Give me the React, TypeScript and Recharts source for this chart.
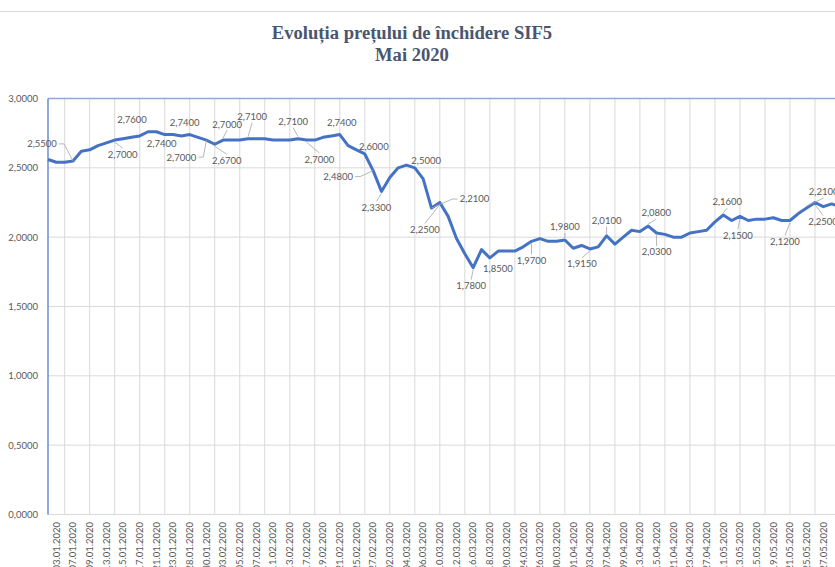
import { LineChart, Line, XAxis, YAxis, CartesianGrid, ReferenceLine, LabelList } from 'recharts'

const DATES = [
  '30.12.2019', '03.01.2020', '06.01.2020', '07.01.2020', '08.01.2020', '09.01.2020', '10.01.2020', '13.01.2020',
  '14.01.2020', '15.01.2020', '16.01.2020', '17.01.2020', '20.01.2020', '21.01.2020', '22.01.2020', '23.01.2020',
  '27.01.2020', '28.01.2020', '29.01.2020', '30.01.2020', '31.01.2020', '03.02.2020', '04.02.2020', '05.02.2020',
  '06.02.2020', '07.02.2020', '10.02.2020', '11.02.2020', '12.02.2020', '13.02.2020', '14.02.2020', '17.02.2020',
  '18.02.2020', '19.02.2020', '20.02.2020', '21.02.2020', '24.02.2020', '25.02.2020', '26.02.2020', '27.02.2020',
  '28.02.2020', '02.03.2020', '03.03.2020', '04.03.2020', '05.03.2020', '06.03.2020', '09.03.2020', '10.03.2020',
  '11.03.2020', '12.03.2020', '13.03.2020', '16.03.2020', '17.03.2020', '18.03.2020', '19.03.2020', '20.03.2020',
  '23.03.2020', '24.03.2020', '25.03.2020', '26.03.2020', '27.03.2020', '30.03.2020', '31.03.2020', '01.04.2020',
  '02.04.2020', '03.04.2020', '06.04.2020', '07.04.2020', '08.04.2020', '09.04.2020', '10.04.2020', '13.04.2020',
  '14.04.2020', '15.04.2020', '16.04.2020', '21.04.2020', '22.04.2020', '23.04.2020', '24.04.2020', '27.04.2020',
  '28.04.2020', '11.05.2020', '12.05.2020', '13.05.2020', '14.05.2020', '15.05.2020', '18.05.2020', '19.05.2020',
  '20.05.2020', '21.05.2020', '22.05.2020', '25.05.2020', '26.05.2020', '27.05.2020', '28.05.2020', '29.05.2020',
]

const PRICES = [
  2.56, 2.54, 2.54, 2.55, 2.62, 2.63, 2.66, 2.68, 2.70, 2.71,
  2.72, 2.73, 2.76, 2.76, 2.74, 2.74, 2.73, 2.74, 2.72, 2.70,
  2.67, 2.70, 2.70, 2.70, 2.71, 2.71, 2.71, 2.70, 2.70, 2.70,
  2.71, 2.70, 2.70, 2.72, 2.73, 2.74, 2.66, 2.63, 2.60, 2.48,
  2.33, 2.43, 2.50, 2.52, 2.50, 2.42, 2.21, 2.25, 2.15, 1.99,
  1.88, 1.78, 1.91, 1.85, 1.90, 1.90, 1.90, 1.93, 1.97, 1.99,
  1.97, 1.97, 1.98, 1.92, 1.94, 1.915, 1.93, 2.01, 1.95, 2.00,
  2.05, 2.04, 2.08, 2.03, 2.02, 2.00, 2.00, 2.03, 2.04, 2.05,
  2.11, 2.16, 2.12, 2.15, 2.12, 2.13, 2.13, 2.14, 2.12, 2.12,
  2.17, 2.21, 2.25, 2.22, 2.24, 2.22,
]

const TICK_LABELS = [
  '03.01.2020', '07.01.2020', '09.01.2020', '13.01.2020', '15.01.2020', '17.01.2020', '21.01.2020', '23.01.2020',
  '28.01.2020', '30.01.2020', '03.02.2020', '05.02.2020', '07.02.2020', '11.02.2020', '13.02.2020', '17.02.2020',
  '19.02.2020', '21.02.2020', '25.02.2020', '27.02.2020', '02.03.2020', '04.03.2020', '06.03.2020', '10.03.2020',
  '12.03.2020', '16.03.2020', '18.03.2020', '20.03.2020', '24.03.2020', '26.03.2020', '30.03.2020', '01.04.2020',
  '03.04.2020', '07.04.2020', '09.04.2020', '13.04.2020', '15.04.2020', '21.04.2020', '23.04.2020', '27.04.2020',
  '11.05.2020', '13.05.2020', '15.05.2020', '19.05.2020', '21.05.2020', '25.05.2020', '27.05.2020',
]

const Y_TICKS = [0, 0.5, 1, 1.5, 2, 2.5, 3]

// where each data label sits relative to its point, and which side the leader line leaves from
type Placement = { dx: number; dy: number; leader?: 'top' | 'bottom' | 'left' | 'right' }
const LABEL_PLACEMENT: Record<number, Placement> = {
  3: { dx: -31, dy: -17, leader: 'right' },
  8: { dx: 8, dy: 14, leader: 'top' },
  12: { dx: -16, dy: -12 },
  14: { dx: -3, dy: 9 },
  17: { dx: -5, dy: -12 },
  19: { dx: -25, dy: 17, leader: 'right' },
  20: { dx: 12, dy: 16, leader: 'top' },
  21: { dx: 4, dy: -16, leader: 'bottom' },
  24: { dx: 4, dy: -22, leader: 'bottom' },
  30: { dx: -5, dy: -17, leader: 'bottom' },
  31: { dx: 13, dy: 19, leader: 'top' },
  35: { dx: 2, dy: -12 },
  38: { dx: 9, dy: -7 },
  39: { dx: -35, dy: 6, leader: 'right' },
  40: { dx: -5, dy: 16, leader: 'top' },
  42: { dx: 28, dy: -7 },
  46: { dx: 43, dy: -9, leader: 'left' },
  47: { dx: -15, dy: 27, leader: 'top' },
  51: { dx: -2, dy: 18, leader: 'top' },
  53: { dx: 8, dy: 11 },
  58: { dx: 0, dy: 19, leader: 'top' },
  62: { dx: 0, dy: -13, leader: 'bottom' },
  65: { dx: -8, dy: 15, leader: 'top' },
  67: { dx: 0, dy: -15, leader: 'bottom' },
  72: { dx: 8, dy: -13, leader: 'bottom' },
  73: { dx: 0, dy: 19, leader: 'top' },
  81: { dx: 4, dy: -13, leader: 'bottom' },
  83: { dx: -2, dy: 19, leader: 'top' },
  89: { dx: -5, dy: 21, leader: 'top' },
  91: { dx: 17, dy: -16, leader: 'bottom' },
  92: { dx: 8, dy: 19, leader: 'top' },
}

const rows = DATES.map((date, i) => ({ date, price: PRICES[i] }))

const FONT = 'Lato, "Liberation Sans", sans-serif'
const TEXT = '#595959'
const fmt = (v: number) => v.toFixed(4).replace('.', ',')

function PointLabel(props: any) {
  const { x, y, value, index } = props
  const p = LABEL_PLACEMENT[index]
  if (!p || x == null || y == null) return null
  const lx = x + p.dx
  const ly = y + p.dy
  let pts = ''
  if (p.leader === 'top') pts = `${lx},${ly - 6} ${x},${y + 2}`
  if (p.leader === 'bottom') pts = `${lx},${ly + 6} ${x},${y - 2}`
  if (p.leader === 'right') pts = `${lx + 17},${ly} ${lx + 22},${ly} ${x},${y}`
  if (p.leader === 'left') pts = `${lx - 17},${ly} ${lx - 22},${ly} ${x},${y}`
  return (
    <g>
      {pts && <polyline points={pts} fill="none" stroke="#a6a6a6" strokeWidth={0.8} />}
      <text x={lx} y={ly} dy={3.4} textAnchor="middle" fontSize={9.5} fill={TEXT} fontFamily={FONT}>
        {fmt(value)}
      </text>
    </g>
  )
}

function DateTick({ x, payload }: any) {
  return (
    <g transform={`translate(${x},522)`}>
      <text transform="rotate(-90)" textAnchor="end" dy={3.3} fontSize={9.5} fill={TEXT} fontFamily={FONT}>
        {payload.value}
      </text>
    </g>
  )
}

function PriceTick({ y, payload }: any) {
  return (
    <text x={38} y={y} dy={3.4} textAnchor="end" fontSize={9.5} fill={TEXT} fontFamily={FONT}>
      {fmt(payload.value)}
    </text>
  )
}

// vertical gridlines every third point, starting at the third one
const verticalLines = ({ offset }: any) => {
  const step = offset.width / (DATES.length - 1)
  const xs: number[] = []
  for (let k = 2; k < DATES.length; k += 3) xs.push(offset.left + k * step)
  return xs
}

export default function App() {
  return (
    <div style={{ position: 'fixed', left: 0, top: 0, width: 835, height: 567, overflow: 'hidden', background: '#fff' }}>
      <div style={{ position: 'absolute', left: 0, top: 11, width: 835, height: 1, background: '#d9d9d9' }} />
      <div
        style={{
          position: 'absolute', left: 0, top: 22, width: 824, textAlign: 'center',
          fontFamily: '"Liberation Serif", serif', fontWeight: 'bold', fontSize: 18.6, lineHeight: '22.4px', color: '#4a5670',
        }}
      >
        Evoluția prețului de închidere SIF5
        <br />
        Mai 2020
      </div>
      <div style={{ position: 'absolute', left: 0, top: 0 }}>
        <LineChart width={860} height={620} data={rows} margin={{ top: 98.5, right: 20, bottom: 0, left: 0 }}>
          <CartesianGrid stroke="#d9d9d9" verticalCoordinatesGenerator={verticalLines} />
          <XAxis
            dataKey="date"
            ticks={TICK_LABELS}
            interval={0}
            tickLine={false}
            axisLine={{ stroke: '#d9d9d9' }}
            height={105.5}
            tick={<DateTick />}
          />
          <YAxis
            domain={[0, 3]}
            ticks={Y_TICKS}
            width={48}
            tickLine={false}
            axisLine={{ stroke: '#4472c4', strokeWidth: 1.2 }}
            tick={<PriceTick />}
          />
          <ReferenceLine y={3} stroke="#8eaadb" strokeWidth={1.5} />
          <Line
            type="linear"
            dataKey="price"
            stroke="#4472c4"
            strokeWidth={3}
            strokeLinejoin="round"
            dot={false}
            isAnimationActive={false}
          >
            <LabelList dataKey="price" content={<PointLabel />} />
          </Line>
        </LineChart>
      </div>
    </div>
  )
}
